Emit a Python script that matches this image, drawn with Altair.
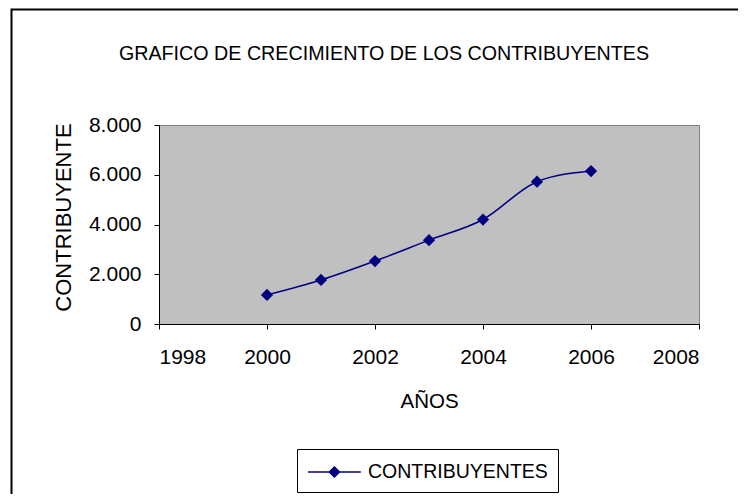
import altair as alt
import pandas as pd

years = [2000, 2001, 2002, 2003, 2004, 2005, 2006]
contribuyentes = [1170, 1770, 2530, 3370, 4200, 5720, 6150]
series_name = ["CONTRIBUYENTES"] * len(years)
x_ticks = [1998, 2000, 2002, 2004, 2006, 2008]
y_ticks = [0, 2000, 4000, 6000, 8000]

df = pd.DataFrame({"year": years, "value": contribuyentes, "serie": series_name})

FONT = "Liberation Sans"
NAVY = "#000080"

x_enc = alt.X("year:Q", scale=alt.Scale(domain=[1998, 2008], nice=False, zero=False),
              axis=alt.Axis(values=x_ticks, format="d", title="AÑOS", grid=False,
                            domainColor="black", tickColor="black", tickSize=5,
                            labelPadding=17, titlePadding=24,
                            labelFontSize=21, titleFontSize=20.5, titleFontWeight="normal",
                            labelColor="black", titleColor="black",
                            labelFont=FONT, titleFont=FONT))
y_enc = alt.Y("value:Q", scale=alt.Scale(domain=[0, 8000], nice=False),
              axis=alt.Axis(values=y_ticks, title="CONTRIBUYENTE", grid=False,
                            labelExpr="replace(format(datum.value, ','), ',', '.')",
                            domainColor="black", tickColor="black", tickSize=5,
                            labelPadding=13, titlePadding=13, titleY=92,
                            labelFontSize=21, titleFontSize=22, titleFontWeight="normal",
                            labelColor="black", titleColor="black",
                            labelFont=FONT, titleFont=FONT))

color_enc = alt.Color("serie:N", scale=alt.Scale(range=[NAVY]),
                      legend=alt.Legend(title=None, orient="none", legendX=138, legendY=324,
                                        direction="horizontal",
                                        symbolType="M-1,0L3.4,0M1.2,-0.42L1.62,0L1.2,0.42L0.78,0Z",
                                        symbolSize=576, symbolStrokeWidth=1.5,
                                        symbolFillColor=NAVY, symbolStrokeColor=NAVY,
                                        labelFontSize=19.5, labelFont=FONT, labelColor="black",
                                        labelLimit=400,
                                        strokeColor="black", padding=10, labelOffset=35,
                                        fillColor="white"))

line = alt.Chart(df).mark_line(interpolate="monotone", strokeWidth=1.5, color=NAVY).encode(
    x=x_enc, y=y_enc, color=color_enc)
points = alt.Chart(df).mark_point(shape="diamond", filled=True, size=150, color=NAVY, opacity=1).encode(
    x="year:Q", y="value:Q")

frame = alt.Chart(pd.DataFrame({"a": [0]})).mark_rect(
    fill=None, stroke="black", strokeWidth=2, clip=False).encode(
    x=alt.value(-147.5), x2=alt.value(640), y=alt.value(-115.5), y2=alt.value(420))

chart = alt.layer(line, points, frame).properties(
    width=540, height=199,
    padding={"left": 151, "top": 117, "right": 39, "bottom": 170},
    autosize=alt.AutoSizeParams(type="none"),
    background="white",
    title=alt.TitleParams("GRAFICO DE CRECIMIENTO DE LOS CONTRIBUYENTES",
                          font=FONT, fontSize=19.7, fontWeight="normal", color="black",
                          anchor="middle", dx=-45, offset=-71, baseline="alphabetic"),
).configure_view(fill="#C0C0C0", stroke="#808080", strokeWidth=1)

chart.save("out.html", embed_options={"renderer": "svg", "actions": False})
